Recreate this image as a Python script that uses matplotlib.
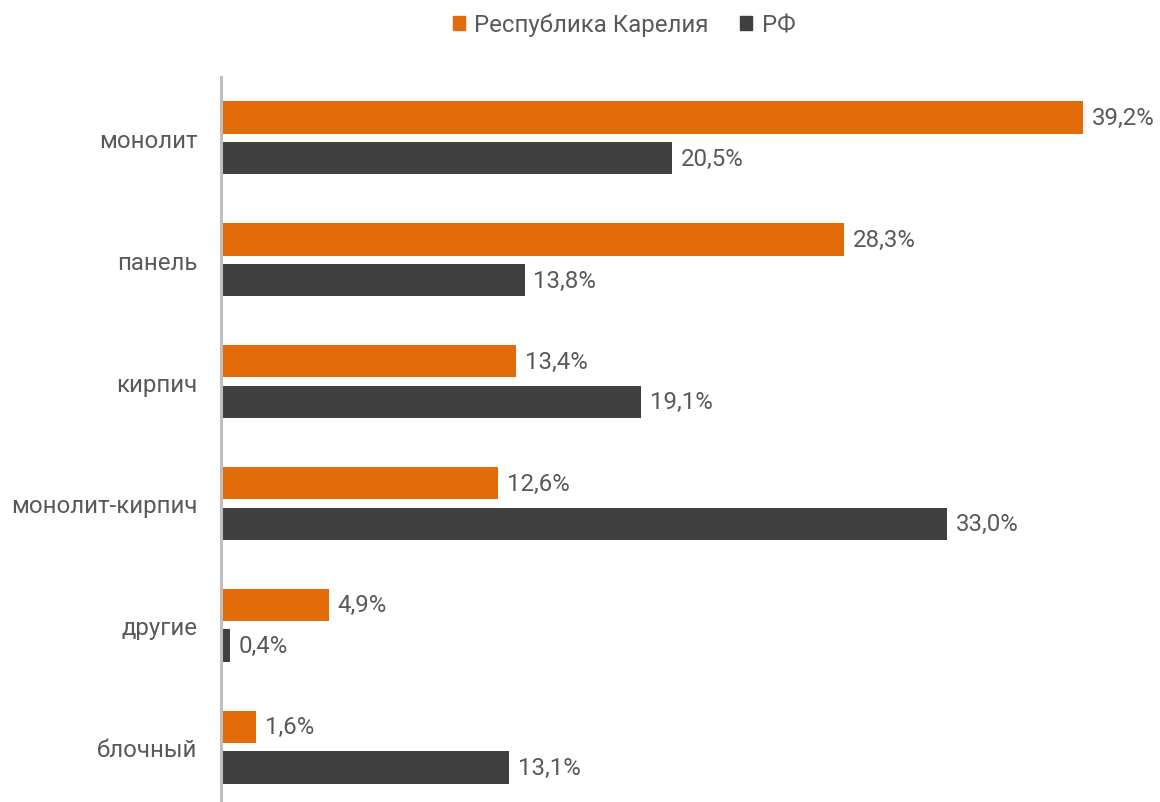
import numpy as np
import matplotlib.pyplot as plt
from matplotlib.patches import Patch

plt.rcParams['font.family'] = ['Roboto', 'DejaVu Sans']

categories = ["монолит", "панель", "кирпич", "монолит-кирпич", "другие", "блочный"]
karelia = [39.2, 28.3, 13.4, 12.6, 4.9, 1.6]
rf = [20.5, 13.8, 19.1, 33.0, 0.4, 13.1]
series_names = ["Республика Карелия", "РФ"]

orange = "#E36C0A"
dark = "#404040"
text_color = "#595959"
fs = 17.3

W, H = 1160, 803
fig = plt.figure(figsize=(W / 100, H / 100), dpi=100)
ax = fig.add_axes([221 / W, -6 / H, 924 / W, (H - 78 + 6) / H])

y = np.arange(len(categories))
h = 0.265
off = 0.167
b1 = ax.barh(y - off, karelia, height=h, color=orange)
b2 = ax.barh(y + off, rf, height=h, color=dark)

for bars, vals in [(b1, karelia), (b2, rf)]:
    for bar, v in zip(bars, vals):
        ax.text(bar.get_width() + 0.4, bar.get_y() + bar.get_height() / 2,
                f"{v:.1f}%".replace(".", ","), va="center", ha="left",
                fontsize=fs, color=text_color)

ax.set_xlim(0, 42)
ax.set_ylim(5.5, -0.5)
ax.set_yticks(y)
ax.set_yticklabels(categories, fontsize=fs, color=text_color)
ax.tick_params(axis="y", length=0, pad=17)
ax.set_xticks([])
for s in ["top", "right", "bottom"]:
    ax.spines[s].set_visible(False)
ax.spines["left"].set_color("#BFBFBF")
ax.spines["left"].set_linewidth(2.2)

handles = [Patch(color=orange), Patch(color=dark)]
fig.legend(handles, series_names, loc="center", bbox_to_anchor=(0.538, 0.968),
           ncol=2, frameon=False, fontsize=fs, labelcolor=text_color,
           handlelength=0.5, handleheight=0.5, handletextpad=0.4,
           columnspacing=1.3)

fig.savefig("out.png", dpi=100)
